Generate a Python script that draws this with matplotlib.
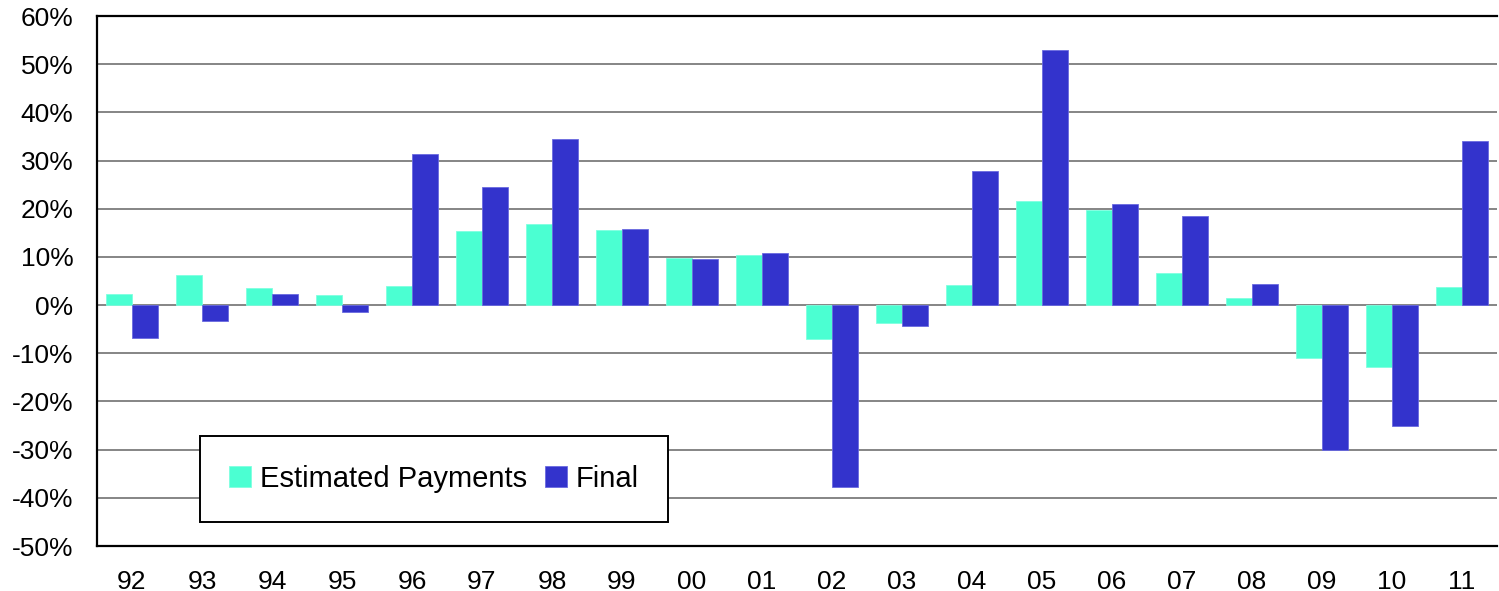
import numpy as np
import matplotlib
matplotlib.use("Agg")
import matplotlib.pyplot as plt
from matplotlib.ticker import FuncFormatter

plt.rcParams['font.family'] = ['Liberation Sans', 'DejaVu Sans']

# data (percent)
years = ['92', '93', '94', '95', '96', '97', '98', '99', '00', '01',
         '02', '03', '04', '05', '06', '07', '08', '09', '10', '11']
estimated = [2.4, 6.2, 3.5, 2.0, 3.9, 15.4, 16.9, 15.6, 9.8, 10.4,
             -7.1, -3.7, 4.1, 21.7, 19.8, 6.7, 1.5, -10.9, -12.9, 3.8]
final = [-6.9, -3.4, 2.2, -1.5, 31.3, 24.6, 34.4, 15.8, 9.6, 10.8,
         -37.8, -4.4, 27.8, 52.9, 21.0, 18.5, 4.4, -30.1, -25.1, 34.0]

fig = plt.figure(figsize=(14.99, 5.91), dpi=100)
ax = fig.add_axes([97 / 1499, 1 - 546 / 591, 1400 / 1499, 530 / 591])

x = np.arange(len(years))
w = 0.37
ax.bar(x - w / 2, estimated, w, color='#4bffd2', edgecolor='#7fffe0',
       linewidth=0.6, label='Estimated Payments', zorder=3)
ax.bar(x + w / 2, final, w, color='#3333cc', edgecolor='#6a6ae0',
       linewidth=0.6, label='Final', zorder=3)

ax.set_xlim(-0.5, len(years) - 0.5)
ax.set_ylim(-50, 60)
ax.set_yticks(np.arange(-50, 61, 10))
ax.yaxis.set_major_formatter(FuncFormatter(lambda v, p: f'{v:.0f}%'))
ax.set_xticks(x)
ax.set_xticklabels(years)
ax.tick_params(axis='y', length=0, labelsize=19, pad=17)
ax.tick_params(axis='x', length=0, labelsize=19, pad=17)

ax.grid(axis='y', color='#858585', linewidth=1.4, zorder=0)
ax.set_axisbelow(True)
for side in ['left', 'bottom', 'top']:
    ax.spines[side].set_linewidth(1.6)
    ax.spines[side].set_color('black')
ax.spines['right'].set_visible(False)

leg = ax.legend(loc='lower left', bbox_to_anchor=(0.0736, 0.045, 0.334, 0.16),
                mode='expand', ncol=2, fontsize=21, frameon=True, fancybox=False,
                framealpha=1, edgecolor='black', handlelength=0.75,
                handleheight=0.75, handletextpad=0.3, borderaxespad=0,
                borderpad=1.0, columnspacing=1.0)
leg.get_frame().set_linewidth(1.4)
leg.set_zorder(5)

fig.savefig('out.png', dpi=100)
